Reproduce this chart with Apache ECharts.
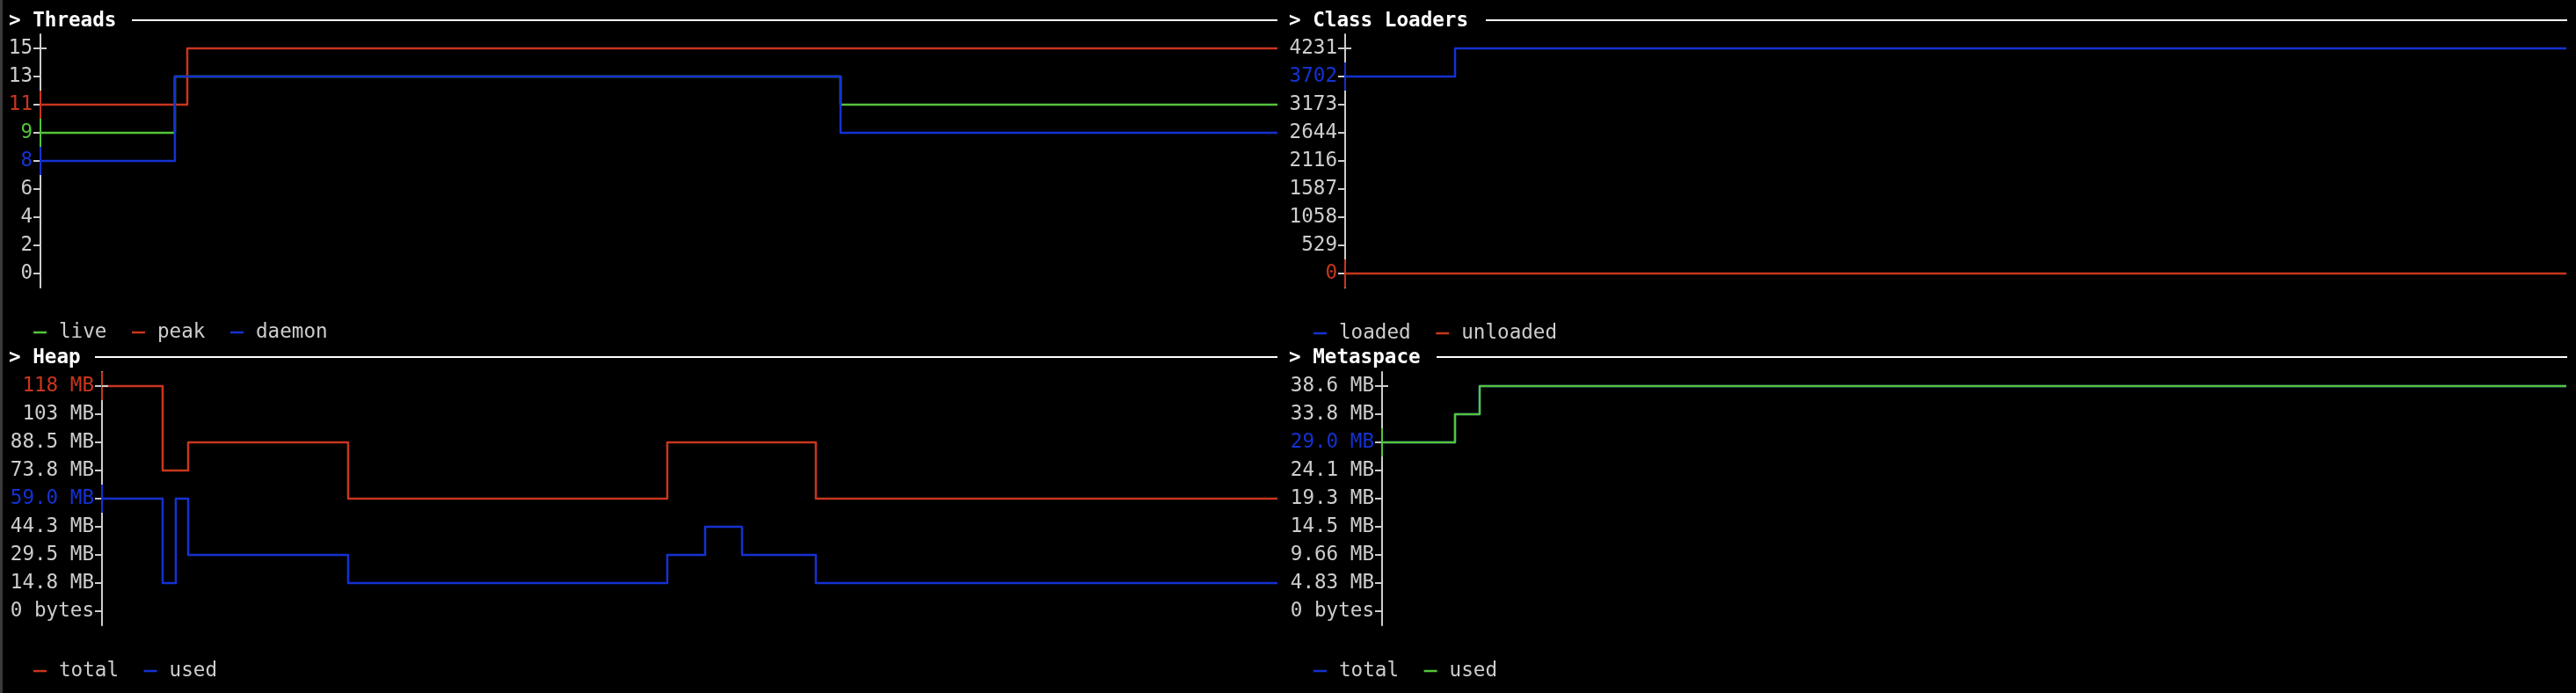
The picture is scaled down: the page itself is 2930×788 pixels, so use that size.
<!DOCTYPE html>
<html>
<head>
<meta charset="utf-8">
<script src="https://cdn.jsdelivr.net/npm/echarts@6/dist/echarts.min.js"></script>
<style>
html,body{margin:0;padding:0;background:#000;}
#c{width:2930px;height:788px;}
</style>
</head>
<body>
<div id="c"></div>
<script>
// ---------- data ----------
// x = position along each panel's time span (0..100), y = axis row label
const threadTicks = ['0','2','4','6','8','9','11','13','15'];
const threadLive   = [[0,'9'],[10.87,'13'],[64.68,'11'],[100,'11']];
const threadPeak   = [[0,'11'],[11.87,'15'],[100,'15']];
const threadDaemon = [[0,'8'],[10.87,'13'],[64.68,'9'],[100,'9']];

const classTicks = ['0','529','1058','1587','2116','2644','3173','3702','4231'];
const classLoaded   = [[0,'3702'],[9.0,'4231'],[100,'4231']];
const classUnloaded = [[0,'0'],[100,'0']];

const heapTicks = ['0 bytes','14.8 MB','29.5 MB','44.3 MB','59.0 MB','73.8 MB','88.5 MB','103 MB','118 MB'];
const heapTotal = [[0,'118 MB'],[5.16,'73.8 MB'],[7.33,'88.5 MB'],[20.94,'59.0 MB'],[48.09,'88.5 MB'],[60.73,'59.0 MB'],[100,'59.0 MB']];
const heapUsed  = [[0,'59.0 MB'],[5.16,'14.8 MB'],[6.28,'59.0 MB'],[7.33,'29.5 MB'],[20.94,'14.8 MB'],[48.09,'29.5 MB'],[51.31,'44.3 MB'],[54.45,'29.5 MB'],[60.73,'14.8 MB'],[100,'14.8 MB']];

const metaTicks = ['0 bytes','4.83 MB','9.66 MB','14.5 MB','19.3 MB','24.1 MB','29.0 MB','33.8 MB','38.6 MB'];
const metaTotal = [[0,'29.0 MB'],[6.16,'33.8 MB'],[8.24,'38.6 MB'],[100,'38.6 MB']];
const metaUsed  = [[0,'29.0 MB'],[6.16,'33.8 MB'],[8.24,'38.6 MB'],[100,'38.6 MB']];

// ---------- style ----------
const RED = '#c8361e', GREEN = '#55c43a', BLUE = '#1432d2';
const GRAY = '#cdcdcd', WHITE = '#ffffff';
const FONT = 'DejaVu Sans Mono';
const FS = 22.6;

// change points -> step vertices
function steps(pts){
  const out = [];
  pts.forEach((p,i)=>{
    if(i>0) out.push([p[0], pts[i-1][1]]);
    out.push([p[0], p[1]]);
  });
  return out;
}

const panels = [
  {title:'Threads', tx:10, ty:24, lx0:150, lx1:1453,
   grid:{left:46, top:39, width:1407, height:288},
   ticks:threadTicks,
   series:[['live',GREEN,threadLive],['peak',RED,threadPeak],['daemon',BLUE,threadDaemon]],
   labelColors:{'11':RED,'9':GREEN,'8':BLUE},
   axisSegs:[['11',RED],['9',GREEN],['8',BLUE]],
   legend:{left:38, top:365}},
  {title:'Class Loaders', tx:1466, ty:24, lx0:1690, lx1:2920,
   grid:{left:1530, top:39, width:1389, height:288},
   ticks:classTicks,
   series:[['loaded',BLUE,classLoaded],['unloaded',RED,classUnloaded]],
   labelColors:{'3702':BLUE,'0':RED},
   axisSegs:[['3702',BLUE],['0',RED]],
   legend:{left:1494, top:366}},
  {title:'Heap', tx:10, ty:407, lx0:108, lx1:1453,
   grid:{left:116, top:423, width:1337, height:288},
   ticks:heapTicks,
   series:[['total',RED,heapTotal],['used',BLUE,heapUsed]],
   labelColors:{'118 MB':RED,'59.0 MB':BLUE},
   axisSegs:[['118 MB',RED],['59.0 MB',BLUE]],
   legend:{left:38, top:750}},
  {title:'Metaspace', tx:1466, ty:407, lx0:1634, lx1:2920,
   grid:{left:1572, top:423, width:1347, height:288},
   ticks:metaTicks,
   series:[['total',BLUE,metaTotal],['used',GREEN,metaUsed]],
   labelColors:{'29.0 MB':BLUE},
   axisSegs:[['29.0 MB',GREEN]],
   legend:{left:1494, top:750}}
];

const option = {
  backgroundColor:'#000',
  animation:false,
  grid:[], xAxis:[], yAxis:[], series:[], legend:[], graphic:[]
};

option.graphic.push({type:'rect', left:0, top:0, shape:{width:3,height:788}, style:{fill:'#3a3a3a'}});

panels.forEach((p,gi)=>{
  option.grid.push(Object.assign({containLabel:false}, p.grid));
  option.xAxis.push({type:'value', gridIndex:gi, min:0, max:100, show:false});
  option.yAxis.push({
    type:'category', gridIndex:gi, data:p.ticks, boundaryGap:true,
    axisLine:{show:true, lineStyle:{color:GRAY, width:2}},
    axisTick:{show:true, alignWithLabel:true, length:8, lineStyle:{color:GRAY, width:2}},
    axisLabel:{margin:9, fontFamily:FONT, fontSize:FS,
      color:(v)=> p.labelColors[v] || GRAY},
    splitLine:{show:false}
  });
  const names = [];
  p.series.forEach(([name,color,data])=>{
    const id = p.title + '|' + name;
    names.push(id);
    option.series.push({
      type:'line', name:id, xAxisIndex:gi, yAxisIndex:gi,
      data:steps(data), color:color,
      showSymbol:false, symbol:'none',
      lineStyle:{color:color, width:2.5, join:'round'},
      emphasis:{disabled:true}
    });
  });
  // coloured axis segments for highlighted values
  option.series.push({
    type:'custom', xAxisIndex:gi, yAxisIndex:gi,
    data:p.axisSegs.map(s=>[0,s[0]]),
    z:5, silent:true,
    renderItem:(params, api)=>{
      const pt = api.coord([0, api.value(1)]);
      const h = api.size([0,1])[1];
      return {type:'line', shape:{x1:pt[0], y1:pt[1]-h/2, x2:pt[0], y2:pt[1]+h/2},
              style:{stroke:p.axisSegs[params.dataIndex][1], lineWidth:2}};
    }
  });
  // cross at the top tick
  option.series.push({
    type:'custom', xAxisIndex:gi, yAxisIndex:gi,
    data:[[0, p.ticks[p.ticks.length-1]]],
    z:5, silent:true,
    renderItem:(params, api)=>{
      const pt = api.coord([0, api.value(1)]);
      return {type:'line', shape:{x1:pt[0], y1:pt[1], x2:pt[0]+7, y2:pt[1]},
              style:{stroke:GRAY, lineWidth:2}};
    }
  });
  option.legend.push({
    left:p.legend.left, top:p.legend.top, data:names, padding:0,
    icon:'rect', itemWidth:15, itemHeight:2.5, itemGap:28.6,
    selectedMode:false,
    formatter:(n)=>n.split('|')[1],
    textStyle:{color:GRAY, fontFamily:FONT, fontSize:FS, lineHeight:26, padding:[0,0,0,9]}
  });
  option.graphic.push({type:'text', x:p.tx, y:p.ty,
    style:{text:'> ' + p.title, fill:WHITE, font:'bold ' + FS + 'px "' + FONT + '"',
           verticalAlign:'middle', textVerticalAlign:'middle'}});
  option.graphic.push({type:'line', shape:{x1:p.lx0, y1:p.ty - 1, x2:p.lx1, y2:p.ty - 1},
    style:{stroke:WHITE, lineWidth:2}});
});

const chart = echarts.init(document.getElementById('c'), null, {renderer:'canvas'});
chart.setOption(option);
</script>
</body>
</html>
